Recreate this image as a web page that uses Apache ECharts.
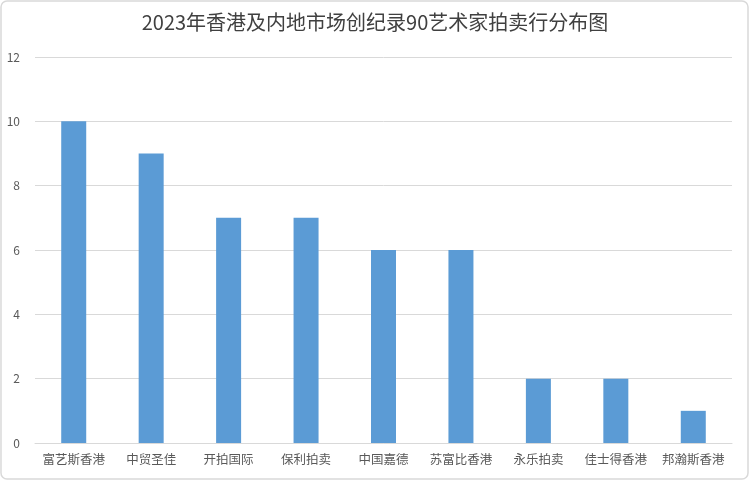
<!DOCTYPE html>
<html>
<head>
<meta charset="utf-8">
<script src="https://cdn.jsdelivr.net/npm/echarts@6/dist/echarts.min.js"></script>
<style>
  html, body { margin: 0; padding: 0; background: #fff; }
  #chart { width: 750px; height: 481px; }
</style>
</head>
<body>
<div id="chart"></div>
<script>
const titleText = '2023年香港及内地市场创纪录90艺术家拍卖行分布图'
const categories = ['富艺斯香港', '中贸圣佳', '开拍国际', '保利拍卖', '中国嘉德', '苏富比香港', '永乐拍卖', '佳士得香港', '邦瀚斯香港']
const counts = [10, 9, 7, 7, 6, 6, 2, 2, 1]

const chart = echarts.init(document.getElementById('chart'))
const font = '"PingFang SC", "Noto Sans CJK SC", sans-serif'

chart.setOption({
  animation: false,
  graphic: [{
    type: 'rect',
    shape: { x: 1, y: 1, width: 747, height: 478, r: 6 },
    style: { fill: 'none', stroke: '#D9D9D9', lineWidth: 1.5 },
    silent: true,
  }],
  title: {
    text: titleText,
    left: 'center',
    top: 7,
    textStyle: { fontSize: 20, fontWeight: 'normal', color: '#404040', fontFamily: font },
  },
  grid: { left: 35, right: 18, top: 57, bottom: 38, containLabel: false },
  xAxis: {
    type: 'category',
    data: categories,
    axisLine: { lineStyle: { color: '#D9D9D9', width: 1 } },
    axisTick: { show: false },
    axisLabel: { interval: 0, fontSize: 12.5, color: '#595959', margin: 10, fontFamily: font },
  },
  yAxis: {
    type: 'value',
    min: 0,
    max: 12,
    interval: 2,
    axisLine: { show: false },
    axisTick: { show: false },
    axisLabel: { fontSize: 12, color: '#595959', margin: 15, fontFamily: font },
    splitLine: { lineStyle: { color: '#D9D9D9', width: 1 } },
  },
  series: [{
    type: 'bar',
    data: counts,
    barWidth: 25,
    itemStyle: { color: '#5B9BD5' },
  }],
})
</script>
</body>
</html>
